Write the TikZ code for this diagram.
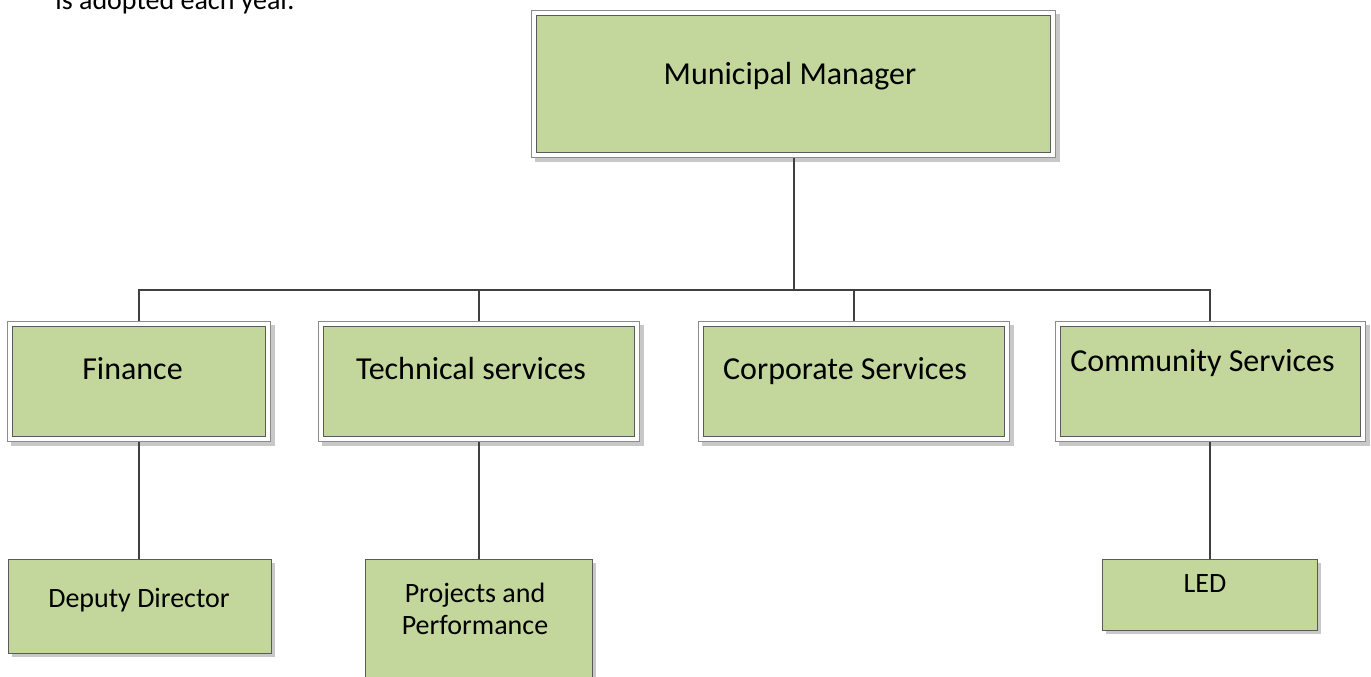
\documentclass[tikz,border=0pt]{standalone}
\usepackage{fontspec}
\setmainfont{Carlito}
\usetikzlibrary{positioning, shadows, calc}

\definecolor{boxgreen}{HTML}{C3D69B}
\definecolor{boxline}{HTML}{5A5A5A}
\definecolor{framegray}{HTML}{8C8C8C}
\definecolor{shadowgray}{HTML}{C8C8C8}
\definecolor{linkgray}{HTML}{404040}

\tikzset{
  greenbox/.style={draw=boxline, fill=boxgreen, line width=0.5pt, inner sep=0pt},
  unitbox/.style={greenbox,
    drop shadow={shadow xshift=2pt, shadow yshift=-2pt, fill=shadowgray, opacity=1}},
  headbox/.style={greenbox, outer sep=2.75pt,
    drop shadow={shadow xshift=2pt, shadow yshift=-2pt, fill=shadowgray,
      draw=shadowgray, line width=5.5pt, opacity=1},
    preaction={draw=framegray, line width=5.5pt},
    preaction={draw=white, line width=4.5pt}},
  biglbl/.style={font=\fontsize{16}{19}\selectfont, inner sep=0pt, anchor=base},
  smalllbl/.style={font=\fontsize{14}{16}\selectfont, inner sep=0pt, anchor=base, align=center},
  link/.style={draw=linkgray, line width=1pt}
}

\begin{document}
\begin{tikzpicture}[x=0.5pt, y=-0.5pt]
  \useasboundingbox (0,0) rectangle (1371,676);

  % text above the chart
  \node[font=\fontsize{14}{16}\selectfont, inner sep=0pt, anchor=base west] (prose) at (55,9) {is adopted each year.};

  % boxes
  \node[headbox, minimum width=257pt, minimum height=68.5pt] (mm) at (793.5,84) {};
  \node[headbox, minimum width=126.5pt, minimum height=55pt] (fin) at (138.5,381) {};
  \node[headbox, minimum width=155.5pt, minimum height=55pt] (tech) at (478.5,381) {};
  \node[headbox, minimum width=150.5pt, minimum height=55pt] (corp) at (853.5,381) {};
  \node[headbox, minimum width=150pt, minimum height=55pt] (com) at (1210,381) {};
  \node[unitbox, minimum width=131.5pt, minimum height=47pt] (dep) at (139.5,606) {};
  \node[unitbox, minimum width=113.5pt, minimum height=70.5pt] (proj) at (478.5,629.5) {};
  \node[unitbox, minimum width=107.5pt, minimum height=35.5pt] (led) at (1209.5,594.5) {};

  % labels
  \node[biglbl] (mm-txt) at (790,84.5) {Municipal Manager};
  \node[biglbl] (fin-txt) at (132.5,379) {Finance};
  \node[biglbl] (tech-txt) at (471,379) {Technical services};
  \node[biglbl] (corp-txt) at (845,379) {Corporate Services};
  \node[biglbl] (com-txt) at (1202.5,371) {Community Services};
  \node[smalllbl] (dep-txt) at (139,607) {Deputy Director};
  \node[smalllbl] (proj-txt) at (475,634) {Projects and\\Performance};
  \node[smalllbl] (led-txt) at (1205,592.5) {LED};

  % connectors
  \coordinate (bus) at (793,290);
  \draw[link] (mm.south) -- (mm.south |- bus);
  \draw[link] (fin.north) -- (fin.north |- bus) -- (com.north |- bus) -- (com.north);
  \draw[link] (tech.north |- bus) -- (tech.north);
  \draw[link] (corp.north |- bus) -- (corp.north);
  \draw[link] (fin.south) -- (fin.south |- dep.north);
  \draw[link] (tech.south) -- (tech.south |- proj.north);
  \draw[link] (com.south) -- (com.south |- led.north);
\end{tikzpicture}
\end{document}
